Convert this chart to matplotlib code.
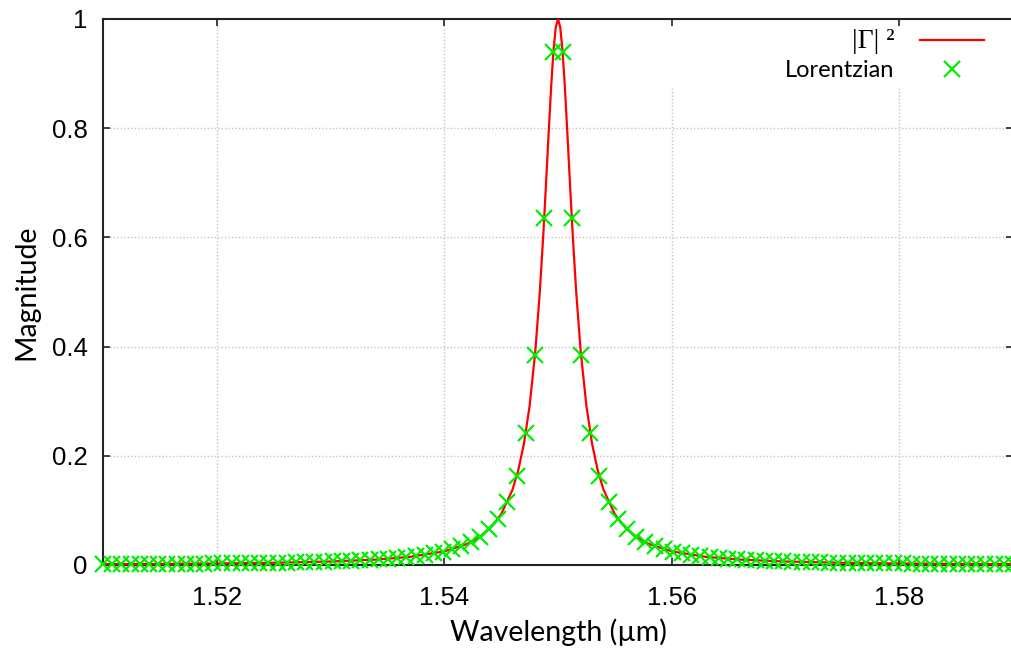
import numpy as np
import matplotlib
matplotlib.use("Agg")
import matplotlib.pyplot as plt

# Reflectance |Γ|² computed on a fine wavelength grid (µm)
wl_reflect = [1.5100, 1.5150, 1.5200, 1.5250, 1.5300, 1.5340, 1.5370, 1.5400,
              1.5420, 1.5430, 1.5440, 1.5450, 1.5460, 1.5465, 1.5470, 1.5475,
              1.5480, 1.5484, 1.5487, 1.5490, 1.5492, 1.5494, 1.5496, 1.5498,
              1.5500,
              1.5502, 1.5504, 1.5506, 1.5508, 1.5510, 1.5513, 1.5516, 1.5520,
              1.5525, 1.5530, 1.5535, 1.5540, 1.5550, 1.5560, 1.5570, 1.5580,
              1.5600, 1.5630, 1.5660, 1.5700, 1.5750, 1.5800, 1.5850, 1.5900]
reflect = [0.0016, 0.0021, 0.0028, 0.0041, 0.0064, 0.0099, 0.0149, 0.0250,
           0.0385, 0.0497, 0.0664, 0.0929, 0.1379, 0.1729, 0.2215, 0.2906,
           0.3902, 0.5000, 0.6023, 0.7191, 0.8000, 0.8767, 0.9412, 0.9846,
           1.0000,
           0.9846, 0.9412, 0.8767, 0.8000, 0.7191, 0.6023, 0.5000, 0.3902,
           0.2906, 0.2215, 0.1729, 0.1379, 0.0929, 0.0664, 0.0497, 0.0385,
           0.0250, 0.0149, 0.0099, 0.0064, 0.0041, 0.0028, 0.0021, 0.0016]

# Lorentzian fit sampled at 100 evenly spaced wavelengths
wl_fit = np.linspace(1.51, 1.59, 100)
lorentz = [0.0016, 0.0017, 0.0017, 0.0018, 0.0019, 0.0020, 0.0021, 0.0022,
           0.0023, 0.0024, 0.0025, 0.0026, 0.0028, 0.0029, 0.0031, 0.0033,
           0.0035, 0.0037, 0.0039, 0.0042, 0.0045, 0.0048, 0.0052, 0.0056,
           0.0060, 0.0065, 0.0070, 0.0077, 0.0084, 0.0092, 0.0102, 0.0113,
           0.0126, 0.0142, 0.0161, 0.0183, 0.0211, 0.0245, 0.0288, 0.0343,
           0.0416, 0.0515, 0.0652, 0.0849, 0.1147, 0.1622, 0.2424, 0.3855,
           0.6354, 0.9401,
           0.9401, 0.6354, 0.3855, 0.2424, 0.1622, 0.1147, 0.0849, 0.0652,
           0.0515, 0.0416, 0.0343, 0.0288, 0.0245, 0.0211, 0.0183, 0.0161,
           0.0142, 0.0126, 0.0113, 0.0102, 0.0092, 0.0084, 0.0077, 0.0070,
           0.0065, 0.0060, 0.0056, 0.0052, 0.0048, 0.0045, 0.0042, 0.0039,
           0.0037, 0.0035, 0.0033, 0.0031, 0.0029, 0.0028, 0.0026, 0.0025,
           0.0024, 0.0023, 0.0022, 0.0021, 0.0020, 0.0019, 0.0018, 0.0017,
           0.0017, 0.0016]

x_ticks = [1.52, 1.54, 1.56, 1.58]
y_ticks = [0, 0.2, 0.4, 0.6, 0.8, 1]
y_tick_labels = ["0", "0.2", "0.4", "0.6", "0.8", "1"]

fig = plt.figure(figsize=(10.12, 6.54), dpi=100)
ax = fig.add_axes([103 / 1012, 89 / 654, 910 / 1012, 546 / 654])

ax.set_xlim(1.51, 1.59)
ax.set_ylim(0, 1)

# dotted grid; vertical lines stop below the key area on the right
key_bottom = 0.875
grid_style = dict(color="#c4c4c4", linestyle=(0, (1, 1.5)), linewidth=1.0,
                  zorder=0.5)
for xt in x_ticks:
    top = 1.0 if xt < 1.555 else key_bottom
    ax.axvline(xt, ymin=0, ymax=top, **grid_style)
for yt in y_ticks[1:-1]:
    ax.axhline(yt, **grid_style)

ax.plot(wl_reflect, reflect, color="#ff0000", linewidth=1.6,
        label="|Γ| ²", zorder=3)
ax.plot(wl_fit, lorentz, linestyle="none", marker="x", markersize=11.5,
        markeredgewidth=1.6, color="#00ee00", label="Lorentzian",
        clip_on=False, zorder=4)

ax.set_xticks(x_ticks)
ax.set_xticklabels([f"{v:.2f}" for v in x_ticks])
ax.set_yticks(y_ticks)
ax.set_yticklabels(y_tick_labels)

for lbl in ax.get_xticklabels() + ax.get_yticklabels():
    lbl.set_fontfamily("Liberation Sans")
    lbl.set_fontsize(18.5)

ax.tick_params(axis="both", direction="in", length=5, width=1.2,
               top=True, right=True, color="#222222")
ax.tick_params(axis="x", pad=15)
ax.tick_params(axis="y", pad=11)

for side in ("left", "bottom", "top"):
    ax.spines[side].set_linewidth(1.5)
    ax.spines[side].set_color("#222222")
ax.spines["right"].set_visible(False)

ax.set_xlabel("Wavelength (µm)", family="Lato", fontsize=20.5, labelpad=6)
ax.set_ylabel("Magnitude", family="Lato", fontsize=20.5, labelpad=9)

leg = ax.legend(loc="upper right", bbox_to_anchor=(0.968, 0.982),
                markerfirst=False, frameon=False, numpoints=1,
                handlelength=2.7, handletextpad=1.1, labelspacing=0.28,
                borderpad=0, borderaxespad=0,
                prop={"family": "Lato", "size": 17})
leg.get_texts()[0].set_fontfamily("Liberation Serif")
leg.get_texts()[0].set_fontsize(20)

fig.savefig("out.png", dpi=100)
